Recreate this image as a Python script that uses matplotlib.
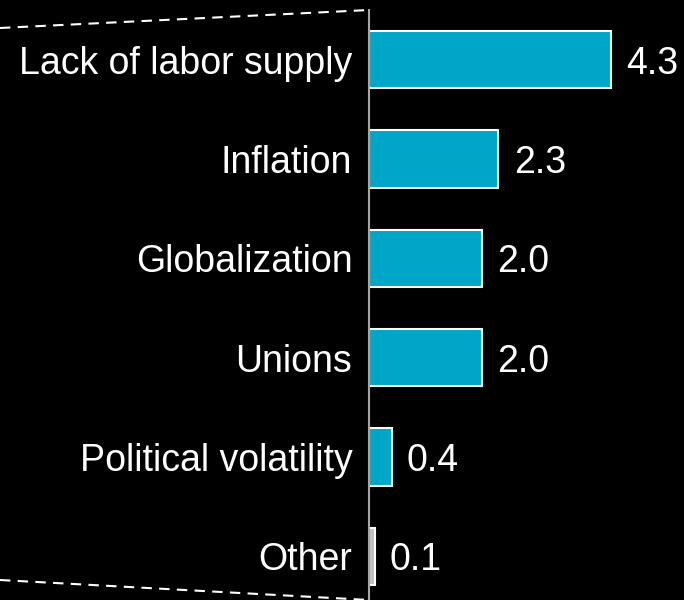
import matplotlib.pyplot as plt
from matplotlib.lines import Line2D

categories = ['Lack of labor supply', 'Inflation', 'Globalization', 'Unions',
              'Political volatility', 'Other']
values = [4.3, 2.3, 2.0, 2.0, 0.4, 0.1]
colors = ['#00a6c7'] * 5 + ['#c0c0c0']

plt.rcParams['font.family'] = ['Liberation Sans', 'DejaVu Sans']

fig = plt.figure(figsize=(6.84, 6.0), dpi=100, facecolor='black')
W, H = 684, 600
ax = fig.add_axes([369 / W, 0, (W - 369) / W, 590 / H])
ax.set_facecolor('black')

ypos = list(range(len(categories)))
ax.barh(ypos, values, height=0.575, color=colors, edgecolor='white', linewidth=1.5)

for y, v in zip(ypos, values):
    ax.text(v + 0.27, y, f'{v:.1f}', color='white', fontsize=27,
            va='center_baseline', ha='left')

ax.set_xlim(0, (W - 369) / 56.3)
ax.set_ylim(5.44, -0.5)
ax.set_yticks(ypos)
ax.set_yticklabels(categories, color='white', fontsize=27)
ax.tick_params(axis='y', length=0, pad=12)
ax.set_xticks([])
for side in ['top', 'right', 'bottom']:
    ax.spines[side].set_visible(False)
ax.spines['left'].set_color('#a6a6a6')
ax.spines['left'].set_linewidth(1.5)

# dashed connector lines drawn in figure pixels
for y0, y1 in [(28, 10), (580, 600)]:
    fig.add_artist(Line2D([0, 369 / W], [1 - y0 / H, 1 - y1 / H], color='white',
                          linestyle=(0, (5, 3.5)), linewidth=1.5, transform=fig.transFigure))

fig.savefig('out.png', dpi=100, facecolor='black')
